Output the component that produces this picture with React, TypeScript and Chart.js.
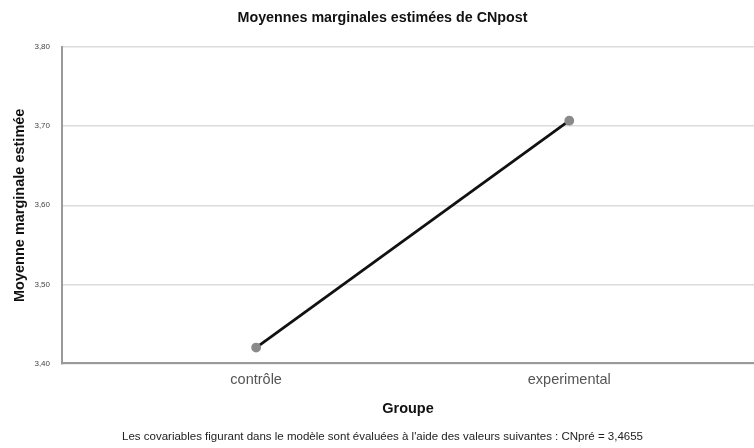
import React, { useEffect, useRef } from "react";
import { Chart, registerables } from "chart.js";

Chart.register(...registerables);

const categories = ["contrôle", "experimental"];
const values = [3.42, 3.707];
const yTicks = [3.4, 3.5, 3.6, 3.7, 3.8];

const titleText = "Moyennes marginales estimées de CNpost";
const yTitle = "Moyenne marginale estimée";
const xTitle = "Groupe";
const footnote =
  "Les covariables figurant dans le modèle sont évaluées à l'aide des valeurs suivantes : CNpré = 3,4655";

const FONT = "'Liberation Sans', Arial, sans-serif";

export default function App() {
  const ref = useRef<HTMLCanvasElement | null>(null);
  useEffect(() => {
    document.body.style.margin = "0";
    const ctx = ref.current!;
    const chart = new Chart(ctx, {
      type: "line",
      data: {
        datasets: [
          {
            data: values.map((v, i) => ({ x: i, y: v })),
            borderColor: "#111111",
            borderWidth: 2.8,
            pointRadius: 3.5,
            pointBackgroundColor: "#8a8a8a",
            pointBorderColor: "#8a8a8a",
            tension: 0,
          },
        ],
      },
      options: {
        responsive: false,
        animation: false,
        layout: { autoPadding: false, padding: { left: 11, right: 0, top: 0, bottom: 2 } },
        plugins: {
          legend: { display: false },
          tooltip: { enabled: false },
          title: {
            display: true,
            text: titleText,
            color: "#111",
            font: { family: FONT, size: 14.3, weight: "bold" },
            padding: { top: 9, bottom: 21 },
          },
          subtitle: {
            display: true,
            position: "bottom",
            text: footnote,
            color: "#222",
            font: { family: FONT, size: 11.5 },
            padding: { top: 7, bottom: 2 },
          },
        },
        scales: {
          x: {
            type: "linear",
            min: -0.62,
            max: 1.59,
            afterBuildTicks: (axis: any) => {
              axis.ticks = categories.map((_, i) => ({ value: i }));
            },
            afterFit: (axis: any) => {
              axis.paddingRight = 0;
              axis.paddingLeft = 0;
            },
            ticks: {
              callback: (v: any) => categories[v as number] ?? "",
              color: "#555",
              font: { family: FONT, size: 14.5 },
              padding: 8,
            },
            grid: { display: false, drawTicks: false },
            border: { display: true, color: "#9a9a9a", width: 2 },
            title: {
              display: true,
              text: xTitle,
              color: "#111",
              font: { family: FONT, size: 14.5, weight: "bold" },
              padding: { top: 3, bottom: 6 },
            },
          },
          y: {
            min: 3.4,
            max: 3.8,
            afterBuildTicks: (axis: any) => {
              axis.ticks = yTicks.map((v) => ({ value: v }));
            },
            afterFit: (axis: any) => {
              axis.width = 51;
            },
            ticks: {
              callback: (v: any) => Number(v).toFixed(2).replace(".", ","),
              color: "#444",
              font: { family: FONT, size: 8 },
              padding: 12,
            },
            grid: { color: "#dcdcdc", lineWidth: 1.5, drawTicks: false },
            border: { display: true, color: "#9a9a9a", width: 2 },
            title: {
              display: true,
              text: yTitle,
              color: "#111",
              font: { family: FONT, size: 14.5, weight: "bold" },
              padding: { top: 0, bottom: 1 },
            },
          },
        },
      },
    });
    return () => chart.destroy();
  }, []);
  return (
    <div style={{ position: "absolute", left: 0, top: 0, width: 754, height: 448, background: "#fff" }}>
      <canvas ref={ref} width={754} height={448} />
    </div>
  );
}
